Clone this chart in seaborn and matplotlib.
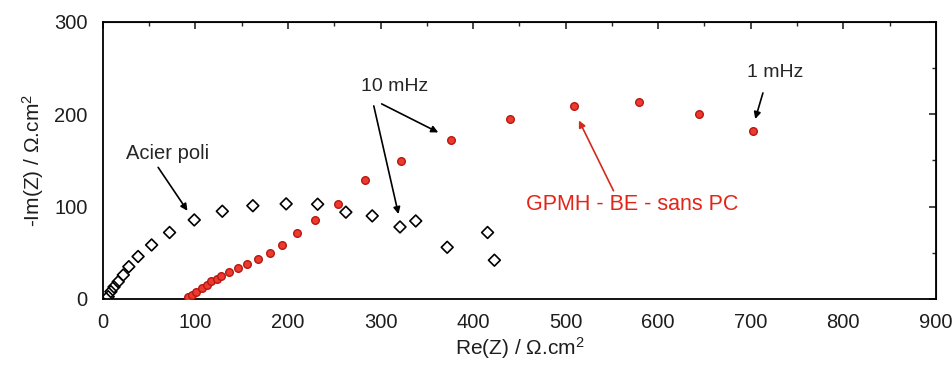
import matplotlib
matplotlib.use("Agg")
import matplotlib.pyplot as plt
import seaborn as sns
import pandas as pd
from matplotlib.ticker import MultipleLocator

# GPMH - BE - sans PC (red circles)
gpmh_re = [92, 96, 101, 106.6, 112, 117, 123, 128, 136.5, 146, 156, 167.5, 180, 193,
           210, 229, 254, 283, 322, 376, 440, 509, 579, 644, 702]
gpmh_im = [1.8, 4.3, 8, 11.5, 15, 19, 22, 25, 29, 33.6, 38, 43.7, 50, 58.5,
           71, 86, 103, 129, 149.5, 172, 195, 209, 213, 200, 182]

# Acier poli (open diamonds)
acier_re = [5.7, 8.6, 12, 16.5, 22, 28, 38, 52.6, 72, 98.7, 129, 162, 198, 232,
            262.5, 291, 321, 338, 372, 415.6, 423]
acier_im = [2.5, 8, 13, 18.7, 26, 35, 46, 58.5, 72, 85.6, 95, 101, 103, 102.6,
            94, 90, 78, 84.5, 56, 72, 42]

x_ticks = [0, 100, 200, 300, 400, 500, 600, 700, 800, 900]
y_ticks = [0, 100, 200, 300]

sns.set_style("white")
plt.rcParams['font.family'] = ['Liberation Sans', 'DejaVu Sans']
plt.rcParams['mathtext.fontset'] = 'custom'
plt.rcParams['mathtext.rm'] = 'Liberation Sans'
plt.rcParams['mathtext.it'] = 'Liberation Sans'

df_g = pd.DataFrame({"re": gpmh_re, "im": gpmh_im})
df_a = pd.DataFrame({"re": acier_re, "im": acier_im})

fig = plt.figure(figsize=(9.53, 3.78), dpi=100)
ax = fig.add_axes([0.108, 0.209, 0.874, 0.733])

sns.scatterplot(data=df_a, x="re", y="im", ax=ax, marker="D", s=36,
                facecolor="none", edgecolor="black", linewidth=1.2, zorder=3)
sns.scatterplot(data=df_g, x="re", y="im", ax=ax, marker="o", s=30,
                color="#ee3a2e", edgecolor="#b51812", linewidth=1.0, zorder=4)

ax.set_xlim(0, 900)
ax.set_ylim(0, 300)
ax.set_xticks(x_ticks)
ax.set_yticks(y_ticks)
ax.xaxis.set_minor_locator(MultipleLocator(50))
ax.yaxis.set_minor_locator(MultipleLocator(50))
ax.tick_params(axis="both", which="major", direction="out", length=5, width=1.2,
               labelsize=14.5, color="black", labelcolor="#1e1e1e", pad=5)
ax.tick_params(axis="y", which="major", pad=6)
ax.tick_params(axis="both", which="minor", direction="out", length=3, width=1.0)
for s in ax.spines.values():
    s.set_visible(True)
    s.set_color("black")
    s.set_linewidth(1.3)

# mirrored inward ticks on top/right
axt = ax.secondary_xaxis("top")
axt.set_xticks(x_ticks)
axt.xaxis.set_minor_locator(MultipleLocator(50))
axt.tick_params(direction="in", length=5, width=1.2, labeltop=False)
axt.tick_params(which="minor", direction="in", length=3, width=1.0)
axr = ax.secondary_yaxis("right")
axr.set_yticks(y_ticks)
axr.yaxis.set_minor_locator(MultipleLocator(50))
axr.tick_params(direction="in", length=5, width=1.2, labelright=False)
axr.tick_params(which="minor", direction="in", length=3, width=1.0)

ax.set_xlabel("Re(Z) / Ω.cm$^2$", fontsize=15, color="#1e1e1e", labelpad=2)
ax.set_ylabel("-Im(Z) / Ω.cm$^2$", fontsize=15, color="#1e1e1e", labelpad=6)

arrow_k = dict(arrowstyle="-|>", color="black", lw=1.2, mutation_scale=10)
ax.text(70, 158, "Acier poli", fontsize=14.5, ha="center", va="center")
ax.annotate("", xy=(93, 93), xytext=(58, 145), arrowprops=arrow_k)

ax.text(315, 230, "10 mHz", fontsize=14, ha="center", va="center")
ax.annotate("", xy=(320, 89), xytext=(292, 212), arrowprops=arrow_k)
ax.annotate("", xy=(365, 179), xytext=(298.5, 212.6), arrowprops=arrow_k)

ax.text(726, 245, "1 mHz", fontsize=14, ha="center", va="center")
ax.annotate("", xy=(704, 192), xytext=(714, 226), arrowprops=arrow_k)

ax.text(572, 102, "GPMH - BE - sans PC", fontsize=15.5, color="#e32418",
        ha="center", va="center")
ax.annotate("", xy=(513, 196), xytext=(553, 114.5),
            arrowprops=dict(arrowstyle="-|>", color="#d42a1c", lw=1.2, mutation_scale=10))

fig.savefig("out.png", dpi=100, facecolor="white")
